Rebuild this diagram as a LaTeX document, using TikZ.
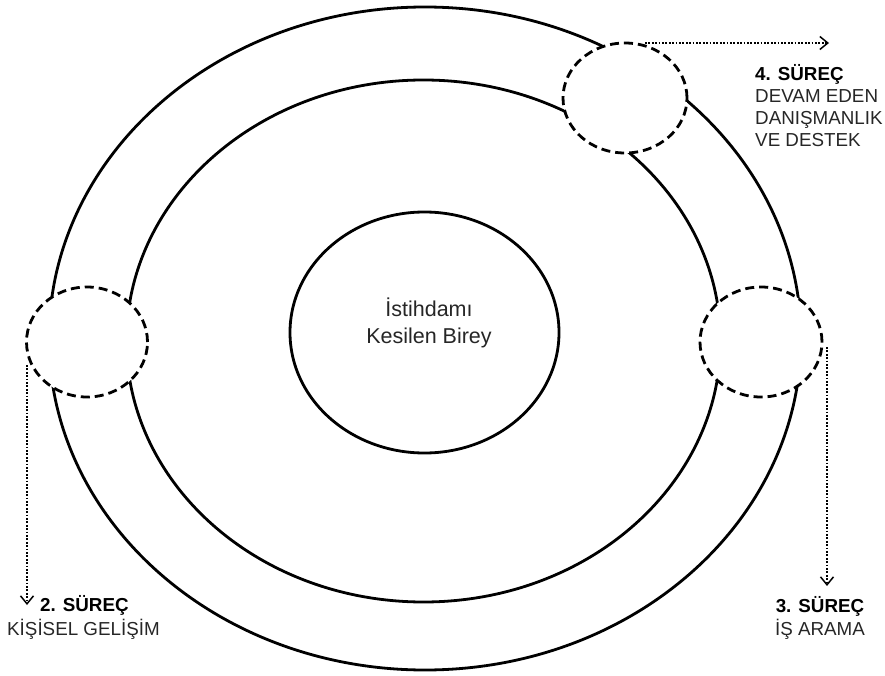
\documentclass[tikz,border=0pt]{standalone}
\usepackage{fontspec}
\setmainfont{Liberation Sans}
\usetikzlibrary{arrows.meta,shapes.geometric}
\begin{document}
\begin{tikzpicture}[x=1pt,y=-1pt,
  ring/.style={draw=black, line width=2.8pt},
  stage/.style={draw=black, fill=white, line width=2.8pt, dash pattern=on 9pt off 5pt, ellipse},
  ptr/.style={draw=black, line width=1.8pt, dash pattern=on 1.8pt off 1.6pt, -{Straight Barb[length=8pt,width=13pt,line width=1.5pt]}},
  lbl/.style={inner sep=0pt, text=black!85, font=\fontsize{18.8}{22}\selectfont},
  lblb/.style={inner sep=0pt, text=black, font=\fontsize{18.8}{22}\selectfont\bfseries},
  ctr/.style={inner sep=0pt, text=black!85, font=\fontsize{21.5}{27}\selectfont}]
\useasboundingbox (0,0) rectangle (885,676);
% rings
\draw[ring] (425,338.5) ellipse [x radius=376, y radius=331.5];
\draw[ring] (423.5,341) ellipse [x radius=297, y radius=261];
\node[ring, ellipse, minimum width=269pt, minimum height=241pt, inner sep=0pt] (core) at (424.5,332.5) {};
\node[ctr, anchor=base] (t1) at (429,316) {İstihdamı};
\node[ctr, anchor=base] (t2) at (429,343) {Kesilen Birey};
% stage circles
\node[stage, minimum width=121pt, minimum height=110pt, inner sep=0pt] (c2) at (87,342) {};
\node[stage, minimum width=122pt, minimum height=110pt, inner sep=0pt] (c3) at (761,342) {};
\node[stage, minimum width=124pt, minimum height=110pt, inner sep=0pt] (c4) at (625,98) {};
% pointer coordinates
\coordinate (s2) at (27,365);
\coordinate (e2) at (27,605);
\coordinate (s3) at (827,347);
\coordinate (e3) at (827,586);
\coordinate (s4) at (645,43);
\coordinate (e4) at (829,43);
\draw[ptr] (s2) -- (e2);
\draw[ptr] (s3) -- (e3);
\draw[ptr] (s4) -- (e4);
% labels
\node[lblb, anchor=base west] (l4a) at (755,81) {4. SÜREÇ};
\node[lbl, anchor=base west] (l4b) at (755,103) {DEVAM EDEN};
\node[lbl, anchor=base west] (l4c) at (755,125) {DANIŞMANLIK};
\node[lbl, anchor=base west] (l4d) at (755,147) {VE DESTEK};
\node[lblb, anchor=base west] (l2a) at (40,611) {2. SÜREÇ};
\node[lbl, anchor=base west] (l2b) at (7,635) {KİŞİSEL GELİŞİM};
\node[lblb, anchor=base] (l3a) at (820,612) {3. SÜREÇ};
\node[lbl, anchor=base] (l3b) at (820,635) {İŞ ARAMA};
\end{tikzpicture}
\end{document}
